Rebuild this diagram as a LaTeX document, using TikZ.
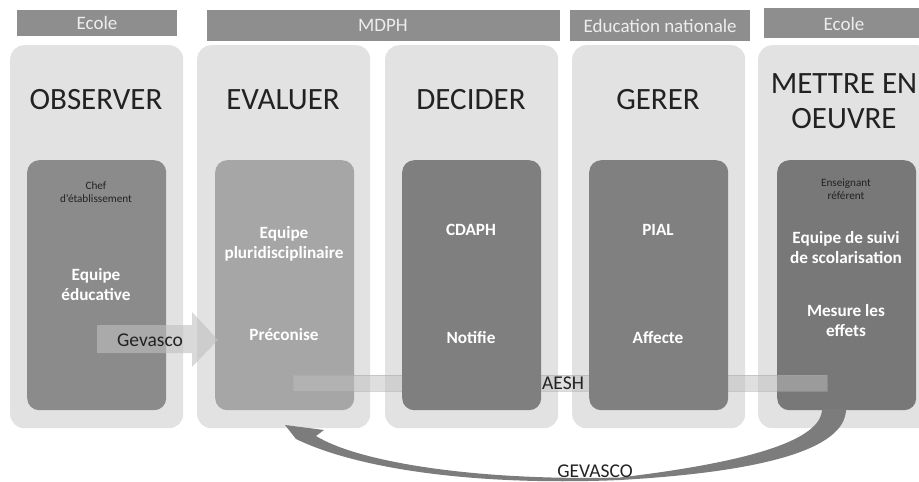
\documentclass[tikz,border=0pt]{standalone}
\usepackage{fontspec}
\setmainfont{Carlito}
\definecolor{hdr}{HTML}{8E8E8E}
\definecolor{hdrtxt}{HTML}{EDEDED}
\definecolor{panel}{HTML}{E2E2E2}
\definecolor{boxA}{HTML}{8B8B8B}
\definecolor{boxB}{HTML}{A6A6A6}
\definecolor{boxC}{HTML}{7F7F7F}
\definecolor{boxD}{HTML}{808080}
\definecolor{boxE}{HTML}{787878}
\definecolor{ink}{HTML}{222222}
\definecolor{arc}{HTML}{7C7C7C}
\tikzset{
  hdrbar/.style={fill=hdr, draw=none, inner sep=0pt, anchor=north west},
  hdrtext/.style={text=hdrtxt, font=\fontsize{19}{19}\selectfont, inner sep=0pt},
  panelbox/.style={fill=panel, draw=none, rounded corners=14pt, inner sep=0pt, anchor=north west, minimum width=173pt, minimum height=383pt},
  innerbox/.style={draw=none, rounded corners=12pt, inner sep=0pt, anchor=north west, minimum width=139pt, minimum height=250pt},
  title/.style={text=ink, font=\fontsize{31}{35}\selectfont, align=center, inner sep=0pt},
  wbold/.style={text=white, font=\bfseries\fontsize{17.2}{20}\selectfont, align=center, inner sep=0pt},
  small/.style={text=ink, font=\fontsize{11.2}{13}\selectfont, align=center, inner sep=0pt},
  lbl/.style={text=ink, font=\fontsize{19.5}{21}\selectfont, inner sep=0pt}
}
\begin{document}
\begin{tikzpicture}[x=1pt,y=-1pt]
\useasboundingbox (0,0) rectangle (919,482);
\clip (0,0) rectangle (919,482);
% header bars
\node[hdrbar, minimum width=160pt, minimum height=26pt] (h1) at (17,10) {};
\node[hdrtext] (h1t) at (97,23) {Ecole};
\node[hdrbar, minimum width=353pt, minimum height=31pt] (h2) at (207,10) {};
\node[hdrtext] (h2t) at (383,25) {MDPH};
\node[hdrbar, minimum width=180pt, minimum height=31pt] (h3) at (570,10) {};
\node[hdrtext] (h3t) at (h3.center) {Education nationale};
\node[hdrbar, minimum width=170pt, minimum height=30pt] (h4) at (764,8) {};
\node[hdrtext] (h4t) at (844,24) {Ecole};
% panels
\node[panelbox] (p1) at (10,45) {};
\node[panelbox] (p2) at (197,45) {};
\node[panelbox] (p3) at (385,45) {};
\node[panelbox] (p4) at (572,45) {};
\node[panelbox] (p5) at (758,45) {};
% titles
\node[title] (t1) at (96,100) {OBSERVER};
\node[title] (t2) at (283,100) {EVALUER};
\node[title] (t3) at (471,100) {DECIDER};
\node[title] (t4) at (658,100) {GERER};
\node[title] (t5) at (844,101) {METTRE EN\\OEUVRE};
% inner boxes (those under the AESH bar)
\node[innerbox, fill=boxA] (b1) at (27,160) {};
\node[innerbox, fill=boxB] (b2) at (215,160) {};
\node[innerbox, fill=boxE] (b5) at (777,160) {};
% AESH bar
\node[fill=gray!50, fill opacity=0.5, draw=gray!70, draw opacity=0.45, line width=0.6pt, inner sep=0pt, anchor=north west, minimum width=534pt, minimum height=16pt] (aeshbar) at (293,375) {};
% inner boxes drawn above the bar
\node[innerbox, fill=boxC] (b3) at (402,160) {};
\node[innerbox, fill=boxD] (b4) at (589,160) {};
\node[lbl, anchor=west] (aesh) at (542,383) {AESH};
% texts in boxes
\node[small] (c1) at (96,192) {Chef\\d'établissement};
\node[wbold] (e1) at (96,285) {Equipe\\éducative};
\node[wbold] (e2) at (284,244) {Equipe\\pluridisciplinaire};
\node[wbold] (r2) at (284,335) {Préconise};
\node[wbold] (e3) at (471,230) {CDAPH};
\node[wbold] (r3) at (471,338) {Notifie};
\node[wbold] (e4) at (658,230) {PIAL};
\node[wbold] (r4) at (658,338) {Affecte};
\node[small] (c5) at (846,189) {Enseignant\\référent};
\node[wbold] (e5) at (846,248) {Equipe de suivi\\de scolarisation};
\node[wbold] (r5) at (846,321) {Mesure les\\effets};
% Gevasco block arrow
\coordinate (ga) at (97,325);
\coordinate (gtip) at (218,340);
\fill[gray!50, opacity=0.6] (ga) -- (192,325) -- (192,312) -- (gtip) -- (192,367) -- (192,353) -- (97,353) -- cycle;
\node[lbl] (gv) at (150,340) {Gevasco};
% GEVASCO curved arrow from b5 back to b2
\coordinate (s1) at (822,409);
\coordinate (s2) at (846,409);
\coordinate (tip) at (285,425);
\fill[arc] (s2) .. controls (846,450) and (760,472) .. (620,480)
  .. controls (480,486) and (360,470) .. (296,439)
  -- (tip) -- (324,430) -- (316,436)
  .. controls (360,463) and (480,481) .. (620,477.5)
  .. controls (750,462) and (822,440) .. (s1) -- cycle;
\node[text=ink, font=\fontsize{19.5}{21}\selectfont, inner sep=0pt] (gv2) at (595,471) {GEVASCO};
\end{tikzpicture}
\end{document}
